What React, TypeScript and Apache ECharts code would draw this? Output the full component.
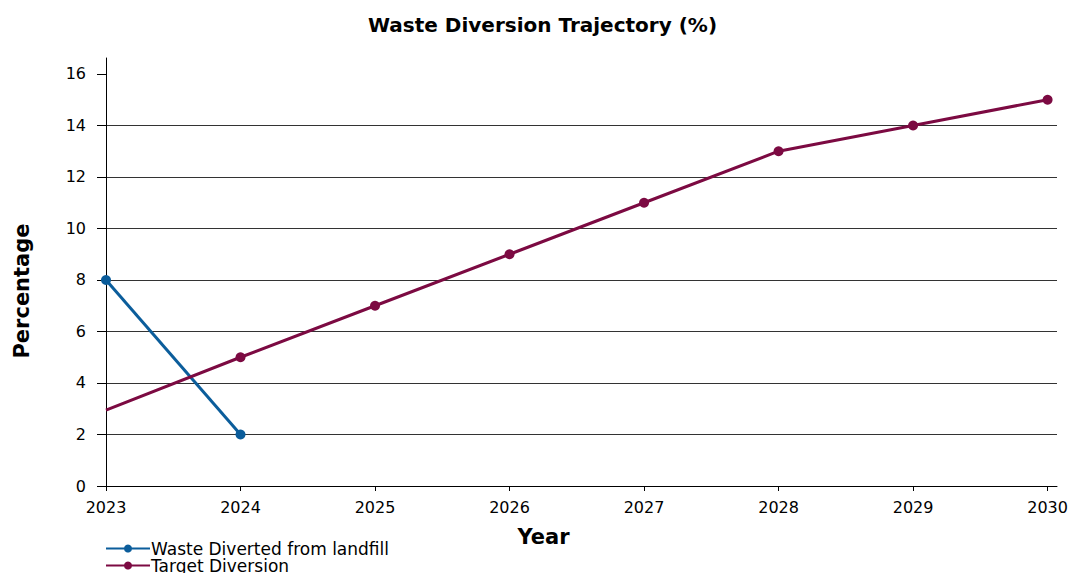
import React, { useEffect, useRef } from "react";
import * as echarts from "echarts";

const years = [2023, 2024, 2025, 2026, 2027, 2028, 2029, 2030];
const wasteDiverted: (number | null)[] = [8, 2, null, null, null, null, null, null];
const targetDiversion = [2.95, 5, 7, 9, 11, 13, 14, 15];
const yTicks = [0, 2, 4, 6, 8, 10, 12, 14, 16];

const FONT = "DejaVu Sans";
const BLUE = "#0b5d9b";
const MAROON = "#7c0a42";

export default function App() {
  const ref = useRef<HTMLDivElement>(null);
  useEffect(() => {
    if (!ref.current) return;
    const chart = echarts.init(ref.current, null, { renderer: "svg" });
    chart.setOption({
      animation: false,
      textStyle: { fontFamily: FONT },
      title: {
        text: "Waste Diversion Trajectory (%)",
        left: 368,
        top: 15,
        padding: 0,
        textStyle: { fontFamily: FONT, fontWeight: "bold", fontSize: 20, color: "#000" },
      },
      legend: {
        orient: "vertical",
        left: 105,
        top: 540,
        height: 100,
        padding: 0,
        itemGap: 0,
        itemWidth: 44,
        itemHeight: 10,
        textStyle: { fontFamily: FONT, fontSize: 17, lineHeight: 16, color: "#000", padding: [0, 0, 0, -4] },
        data: ["Waste Diverted from landfill", "Target Diversion"],
      },
      grid: { left: 106, right: 15, top: 58, bottom: 87, containLabel: false, outerBoundsMode: "none" },
      xAxis: {
        type: "value",
        min: 2023,
        max: 2030.07,
        interval: 1,
        name: "Year",
        nameLocation: "middle",
        nameGap: 40,
        nameTextStyle: {
          fontFamily: FONT,
          fontWeight: "bold",
          fontSize: 21,
          color: "#000",
          padding: [0, 76, 0, 0],
        },
        axisLine: { show: true, lineStyle: { color: "#000", width: 1 } },
        axisTick: { show: true, length: 5, customValues: years, lineStyle: { color: "#000" } },
        axisLabel: {
          customValues: years,
          formatter: (v: number) => String(Math.round(v)),
          fontFamily: FONT,
          fontSize: 16,
          color: "#000",
          margin: 13,
        },
        splitLine: { show: false },
      },
      yAxis: {
        type: "value",
        min: 0,
        max: 16.62,
        name: "Percentage",
        nameLocation: "middle",
        nameGap: 74,
        nameTextStyle: {
          fontFamily: FONT,
          fontWeight: "bold",
          fontSize: 21,
          color: "#000",
          padding: [0, 38, 0, 0],
        },
        axisLine: { show: true, lineStyle: { color: "#000", width: 1 } },
        axisTick: { show: true, length: 9, customValues: yTicks, lineStyle: { color: "#000" } },
        axisLabel: {
          customValues: yTicks,
          fontFamily: FONT,
          fontSize: 16,
          color: "#000",
          margin: 20,
        },
        splitLine: {
          show: true,
          showMaxLine: false,
          lineStyle: { color: "#333", width: 1 },
        },
      },
      series: [
        {
          name: "Waste Diverted from landfill",
          type: "line",
          data: years.map((y, i) => [y, wasteDiverted[i]]),
          connectNulls: false,
          symbol: "circle",
          symbolSize: 10,
          lineStyle: { color: BLUE, width: 3 },
          itemStyle: { color: BLUE },
        },
        {
          name: "Target Diversion",
          type: "line",
          data: years.map((y, i) =>
            i === 0
              ? { value: [y, targetDiversion[i]], symbol: "none" }
              : { value: [y, targetDiversion[i]] }
          ),
          symbol: "circle",
          symbolSize: 10,
          lineStyle: { color: MAROON, width: 3 },
          itemStyle: { color: MAROON },
        },
      ],
    });
    return () => chart.dispose();
  }, []);
  return <div ref={ref} style={{ width: 1072, height: 573, position: "absolute", left: 0, top: 0 }} />;
}
